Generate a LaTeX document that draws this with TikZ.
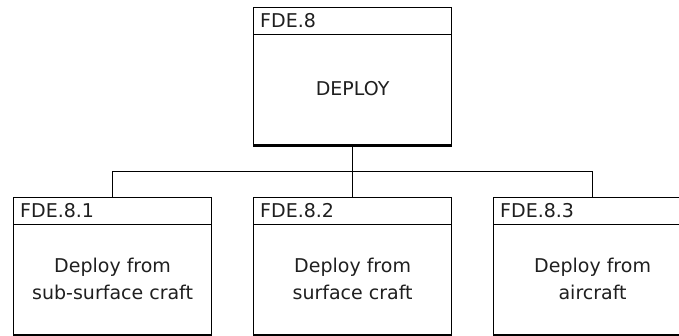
\documentclass[tikz,border=0pt]{standalone}
\usepackage{fontspec}
\setmainfont{DejaVu Sans}
\begin{document}
\begin{tikzpicture}[x=1pt,y=-1pt,
  blk/.style={draw=black, line width=1.2pt, minimum width=198pt, minimum height=137pt,
    inner sep=0pt, anchor=north west,
    path picture={\draw[line width=1.2pt]
      ([yshift=-27pt]path picture bounding box.north west) --
      ([yshift=-27pt]path picture bounding box.north east);}},
  idtxt/.style={anchor=base west, inner sep=0pt, text=black!88,
    font=\fontsize{19}{23}\selectfont},
  bodytxt/.style={align=center, inner sep=0pt, text=black!88,
    font=\fontsize{19}{27}\selectfont},
  wire/.style={draw=black, line width=1.2pt},
  base/.style={line width=3pt}]
\useasboundingbox (0,0) rectangle (679,335);
\clip (0,0) rectangle (679,335);
\fill[white] (0,0) rectangle (679,335);

% parent function
\node[blk] (top) at (253,7) {};
\draw[base] (top.south west) -- (top.south east);
\node[idtxt] (topid) at ([xshift=7pt,yshift=-20pt]top.north west) {FDE.8};
\node[bodytxt] (topbody) at ([yshift=-82pt]top.north) {DEPLOY};

% sub-functions
\node[blk] (b1) at (13,197) {};
\node[blk] (b2) at (253,197) {};
\node[blk] (b3) at (493,197) {};
\foreach \n in {b1,b2,b3}{\draw[base] (\n.south west) -- (\n.south east);}
\node[idtxt] (b1id) at ([xshift=7pt,yshift=-20pt]b1.north west) {FDE.8.1};
\node[idtxt] (b2id) at ([xshift=7pt,yshift=-20pt]b2.north west) {FDE.8.2};
\node[idtxt] (b3id) at ([xshift=7pt,yshift=-20pt]b3.north west) {FDE.8.3};
\node[bodytxt] (b1body) at ([yshift=-82pt]b1.north) {Deploy from\\sub-surface craft};
\node[bodytxt] (b2body) at ([yshift=-82pt]b2.north) {Deploy from\\surface craft};
\node[bodytxt] (b3body) at ([yshift=-82pt]b3.north) {Deploy from\\aircraft};

% decomposition tree
\coordinate (bus) at (352,171.5);
\draw[wire] (top.south) -- (b2.north);
\draw[wire] (b1.north) |- (bus) -| (b3.north);
\end{tikzpicture}
\end{document}
